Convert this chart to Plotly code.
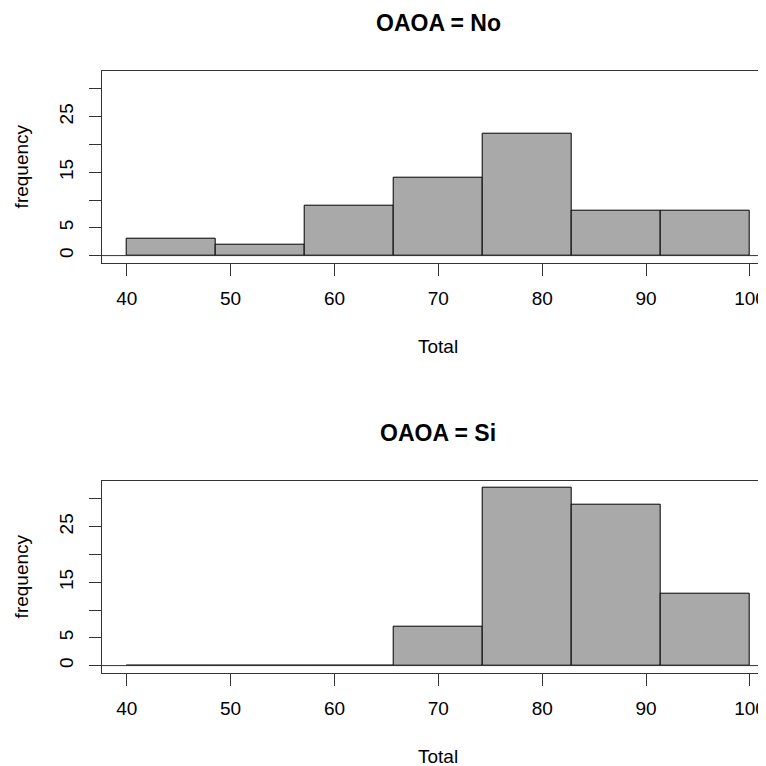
import plotly.graph_objects as go

# Data
bin_edges = [40, 48.571, 57.143, 65.714, 74.286, 82.857, 91.429, 100]
counts_no = [3, 2, 9, 14, 22, 8, 8]
counts_si = [0, 0, 0, 7, 32, 29, 13]
panel_titles = ["OAOA = No", "OAOA = Si"]
x_ticks = [40, 50, 60, 70, 80, 90, 100]
y_ticks = [0, 5, 10, 15, 20, 25, 30]
y_ticktext = ["0", "5", "", "15", "", "25", ""]

OFF = 8  # default page body margin
W = 766 - OFF
H = 766 - OFF
FONT = "Liberation Sans, Arial, sans-serif"
LINE = "#333333"

centers = [(bin_edges[i] + bin_edges[i + 1]) / 2 for i in range(len(bin_edges) - 1)]
widths = [bin_edges[i + 1] - bin_edges[i] for i in range(len(bin_edges) - 1)]

fig = go.Figure()

def px_x(p):
    return (p - OFF) / W

def py(p):
    return 1 - (p - OFF) / H

panels = [
    dict(counts=counts_no, top=70.7, bottom=262.7, total=347),
    dict(counts=counts_si, top=480.7, bottom=672.7, total=756),
]

annotations = []
shapes = []
for k, p in enumerate(panels):
    suffix = "" if k == 0 else "2"
    fig.add_trace(go.Bar(
        x=centers, y=p["counts"], width=widths,
        marker=dict(color="#A9A9A9", line=dict(color="black", width=1)),
        xaxis="x" + suffix, yaxis="y" + suffix, showlegend=False, hoverinfo="x+y",
    ))
    ax_common = dict(
        showline=True, linecolor=LINE, linewidth=1,
        ticks="outside", ticklen=12, tickcolor=LINE, tickwidth=1,
        showgrid=False, zeroline=False,
        tickfont=dict(family=FONT, size=19, color="black"),
    )
    fig.layout["xaxis" + suffix] = dict(
        ax_common,
        domain=[px_x(101.7), 1.0], range=[37.593, 37.593 + (766 - 101.7) / 10.388],
        tickvals=x_ticks, mirror=True,
        anchor="y" + suffix, ticklabelstandoff=6,
    )
    fig.layout["yaxis" + suffix] = dict(
        ax_common,
        domain=[py(p["bottom"]), py(p["top"])], range=[-1.28, 33.28],
        tickvals=y_ticks, ticktext=y_ticktext, tickangle=-90,
        anchor="x" + suffix, ticklabelstandoff=8,
    )
    shapes.append(dict(type="line", xref="x" + suffix + " domain", x0=0, x1=1,
                       yref="y" + suffix, y0=0, y1=0,
                       line=dict(color=LINE, width=1)))
    mid = (p["top"] + p["bottom"]) / 2
    annotations.append(dict(text="<b>" + panel_titles[k] + "</b>", xref="paper", yref="paper",
                            x=px_x(438.4), y=py(p["top"] - 47.7), showarrow=False,
                            xanchor="center", yanchor="middle",
                            font=dict(family=FONT, size=23, color="black")))
    annotations.append(dict(text="Total", xref="paper", yref="paper",
                            x=px_x(438.4), y=py(p["total"]), showarrow=False,
                            xanchor="center", yanchor="middle",
                            font=dict(family=FONT, size=19, color="black")))
    annotations.append(dict(text="frequency", xref="paper", yref="paper",
                            x=px_x(21.7), y=py(mid), showarrow=False, textangle=-90,
                            xanchor="center", yanchor="middle",
                            font=dict(family=FONT, size=19, color="black")))

fig.update_layout(
    width=W, height=H, autosize=False,
    margin=dict(l=0, r=0, t=0, b=0),
    paper_bgcolor="white", plot_bgcolor="white",
    bargap=0, annotations=annotations, shapes=shapes,
    showlegend=False,
)

fig.write_html("out.html")
